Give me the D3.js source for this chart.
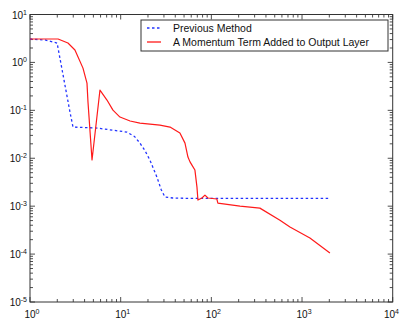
<!DOCTYPE html>
<html>
<head>
<meta charset="utf-8">
<script src="https://cdn.jsdelivr.net/npm/d3@7"></script>
<style>
  html, body { margin: 0; padding: 0; background: #fff; }
  svg { display: block; font-family: "Liberation Sans", Arial, sans-serif; }
</style>
</head>
<body>
<div id="chart"></div>
<script>
// legend labels
const seriesNames = ['Previous Method', 'A Momentum Term Added to Output Layer'];

// Previous Method (blue dashed)
const prevX = [1, 1.46, 1.99, 2.76, 2.98, 5.48, 11.7, 14.2, 16.3, 18.5, 21.0, 25.1, 28, 30.8, 37.7, 60, 100, 300, 1000, 2000];
const prevY = [3.08, 2.94, 2.54, 0.092, 0.0448, 0.0427, 0.0352, 0.0285, 0.0207, 0.0145, 0.00916, 0.00404, 0.0022, 0.00155, 0.00148, 0.00145, 0.00145, 0.00145, 0.00145, 0.00145];

// momentum term (red solid)
const momX = [1, 2.04, 2.62, 3.13, 3.84, 4.25, 4.36, 4.83, 5.91, 7.06, 8.22, 9.82, 12.7, 16.3, 27.1, 35.0, 45.0, 51.2, 55.2, 58, 61.1, 65.9, 69.4, 71.1, 78.7, 85.0, 91.7, 115, 118, 207, 343, 571, 736, 1222, 2030];
const momY = [3.08, 3.08, 2.54, 1.82, 0.76, 0.37, 0.149, 0.0092, 0.265, 0.164, 0.101, 0.0724, 0.0598, 0.0543, 0.0493, 0.0448, 0.0336, 0.0207, 0.0106, 0.0085, 0.0072, 0.00567, 0.0025, 0.00134, 0.00148, 0.0017, 0.00148, 0.00141, 0.00116, 0.001, 0.00091, 0.00051, 0.000366, 0.000216, 0.000105];

const xDomain = [1, 1e4];
const yDomain = [1e-5, 10];

const width = 400, height = 323;
const margin = {top: 14.5, right: 7.3, bottom: 21, left: 30};

const svg = d3.select('#chart').append('svg')
  .attr('width', width)
  .attr('height', height);

const x = d3.scaleLog().domain(xDomain).range([margin.left, width - margin.right]);
const y = d3.scaleLog().domain(yDomain).range([height - margin.bottom, margin.top]);

const isMajor = v => Math.abs(Math.log10(v) - Math.round(Math.log10(v))) < 1e-9;

// ticks, inward on all 4 sides (matlab style)
const xt = x.ticks();
const yt = y.ticks();
const tickG = svg.append('g').attr('stroke', '#222').attr('stroke-width', 0.8);
xt.forEach(v => {
  const len = isMajor(v) ? 5 : 3;
  tickG.append('line').attr('x1', x(v)).attr('x2', x(v))
    .attr('y1', y.range()[0]).attr('y2', y.range()[0] - len);
  tickG.append('line').attr('x1', x(v)).attr('x2', x(v))
    .attr('y1', y.range()[1]).attr('y2', y.range()[1] + len);
});
yt.forEach(v => {
  const len = isMajor(v) ? 5 : 3;
  tickG.append('line').attr('y1', y(v)).attr('y2', y(v))
    .attr('x1', x.range()[0]).attr('x2', x.range()[0] + len);
  tickG.append('line').attr('y1', y(v)).attr('y2', y(v))
    .attr('x1', x.range()[1]).attr('x2', x.range()[1] - len);
});

// box
svg.append('rect')
  .attr('x', x.range()[0]).attr('y', y.range()[1])
  .attr('width', x.range()[1] - x.range()[0])
  .attr('height', y.range()[0] - y.range()[1])
  .attr('fill', 'none').attr('stroke', '#333').attr('stroke-width', 1);

// tick labels: 10 with superscript exponent
function powLabel(g, px, py, exp, anchor) {
  const t = g.append('text').attr('x', px).attr('y', py)
    .attr('text-anchor', anchor).attr('font-size', 10).attr('fill', '#111');
  t.append('tspan').text('10');
  t.append('tspan').attr('dy', -4).attr('font-size', 7).text(exp);
}
const lab = svg.append('g');
xt.filter(isMajor).forEach((v, i, arr) => {
  const last = i === arr.length - 1;
  // last label would run off the right edge, pin it to the edge
  powLabel(lab, last ? width - 1 : x(v) + 2, y.range()[0] + 16,
    Math.round(Math.log10(v)), last ? 'end' : 'middle');
});
yt.filter(isMajor).forEach(v => {
  powLabel(lab, x.range()[0] - 3, y(v) + 4, Math.round(Math.log10(v)), 'end');
});

// series
const line = d3.line().x(d => x(d[0])).y(d => y(d[1]));
const prevData = d3.zip(prevX, prevY);
const momData = d3.zip(momX, momY);

svg.append('path').datum(prevData)
  .attr('d', line).attr('fill', 'none')
  .attr('stroke', '#2233ff').attr('stroke-width', 1.3)
  .attr('stroke-dasharray', '2.5,2.5');

svg.append('path').datum(momData)
  .attr('d', line).attr('fill', 'none')
  .attr('stroke', '#ff1a1a').attr('stroke-width', 1.2)
  .attr('stroke-linejoin', 'round');

// legend
const lg = svg.append('g');
lg.append('rect').attr('x', 141).attr('y', 20).attr('width', 247).attr('height', 31)
  .attr('fill', '#fff').attr('stroke', '#333').attr('stroke-width', 1);
const legendItems = [
  {name: seriesNames[0], color: '#2233ff', dash: '2.5,2.5'},
  {name: seriesNames[1], color: '#ff1a1a', dash: null}
];
legendItems.forEach((d, i) => {
  const ly = 28 + i * 14;
  lg.append('line').attr('x1', 147).attr('x2', 161).attr('y1', ly).attr('y2', ly)
    .attr('stroke', d.color).attr('stroke-width', 1.3)
    .attr('stroke-dasharray', d.dash);
  lg.append('text').attr('x', 173).attr('y', ly + 3.5)
    .attr('font-size', 10.5).attr('fill', '#111').text(d.name);
});
</script>
</body>
</html>
